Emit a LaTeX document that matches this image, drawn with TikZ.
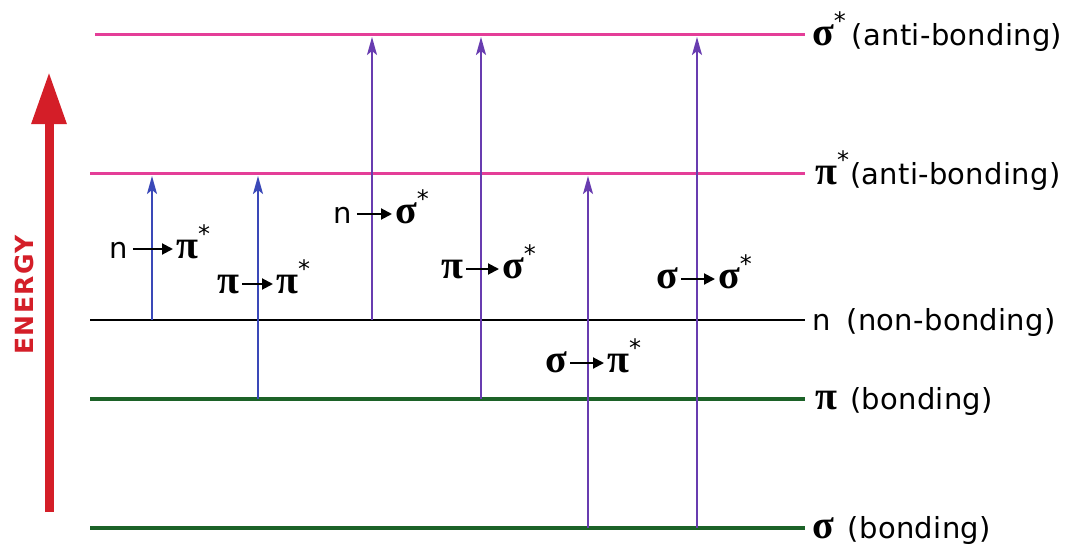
\documentclass[tikz,border=0pt]{standalone}
\usepackage{fontspec}
\setmainfont{DejaVu Sans}[LetterSpace=1]
\newfontfamily\gkfont{Liberation Serif}
\newfontfamily\enfont{DejaVu Sans}[LetterSpace=6]
\usetikzlibrary{arrows.meta}
\definecolor{pinkl}{RGB}{228,62,152}
\definecolor{greenl}{RGB}{28,98,40}
\definecolor{bluea}{RGB}{58,72,184}
\definecolor{purplea}{RGB}{104,60,176}
\definecolor{redE}{RGB}{212,30,40}
\newcommand{\gk}[1]{{\gkfont\bfseries\fontsize{40}{40}\selectfont #1}}
\newcommand{\st}{\raisebox{0.55em}{\fontsize{24}{24}\selectfont *}}
\tikzset{
  pinkline/.style={pinkl, line width=3pt},
  blackline/.style={black, line width=2pt},
  greenline/.style={greenl, line width=4pt},
  trans/.style={line width=2pt, -{Stealth[length=18pt,width=10pt,inset=4pt]}},
  lbl/.style={inner sep=0pt, font=\fontsize{29}{32}\selectfont, anchor=base west},
  tarr/.style={black, line width=2pt, -{Triangle[length=11pt,width=11pt]}},
}
\begin{document}
\begin{tikzpicture}[x=1pt,y=-1pt]
\fill[white] (0,0) rectangle (1074,547);
\useasboundingbox (0,0) rectangle (1074,547);
% energy levels
\draw[pinkline] (95,34) -- (805,34);
\draw[pinkline] (90,173) -- (805,173);
\draw[blackline] (90,320) -- (805,320);
\draw[greenline] (90,399) -- (805,399);
\draw[greenline] (90,528) -- (805,528);
% level labels
\node[lbl] (Lss) at (812,45) {\gk{σ}\st\hspace{6pt}(anti-bonding)};
\node[lbl] (Lps) at (815,184) {\gk{π}\st\hspace{1pt}(anti-bonding)};
\node[lbl] (Ln) at (812,330) {n\hspace{16pt}(non-bonding)};
\node[lbl] (Lp) at (815,409) {\gk{π}\hspace{13pt}(bonding)};
\node[lbl] (Ls) at (812,538) {\gk{σ}\hspace{14pt}(bonding)};
% energy axis
\coordinate (Ebot) at (49,512);
\coordinate (Etop) at (49,72);
\draw[redE, line width=9pt, -{Triangle[length=52pt,width=33pt]}] (Ebot) -- (Etop);
\node[rotate=90, text=redE, inner sep=0pt, font=\enfont\bfseries\fontsize{25}{25}\selectfont] (E) at (24,295) {ENERGY};
% transition endpoints
\coordinate (a1) at (152,320); \coordinate (b1) at (152,176);
\coordinate (a2) at (258,399); \coordinate (b2) at (258,176);
\coordinate (a3) at (372,320); \coordinate (b3) at (372,37);
\coordinate (a4) at (481,399); \coordinate (b4) at (481,37);
\coordinate (a5) at (588,528); \coordinate (b5) at (588,176);
\coordinate (a6) at (697,528); \coordinate (b6) at (697,37);
\draw[trans, bluea] (a1) -- (b1);
\draw[trans, bluea] (a2) -- (b2);
\draw[trans, purplea] (a3) -- (b3);
\draw[trans, purplea] (a4) -- (b4);
\draw[trans, purplea] (a5) -- (b5);
\draw[trans, purplea] (a6) -- (b6);
% transition labels
\node[lbl] (t1a) at (109,258) {n};
\node[lbl] (t1b) at (176,258) {\gk{π}\st};
\draw[tarr] ([xshift=5pt,yshift=9pt]t1a.base east) -- ([xshift=-3pt,yshift=9pt]t1b.base west);
\node[lbl] (t2a) at (217,293) {\gk{π}};
\node[lbl] (t2b) at (276,293) {\gk{π}\st};
\draw[tarr] ([xshift=3pt,yshift=9pt]t2a.base east) -- ([xshift=-3pt,yshift=9pt]t2b.base west);
\node[lbl] (t3a) at (333,223) {n};
\node[lbl] (t3b) at (395,223) {\gk{σ}\st};
\draw[tarr] ([xshift=5pt,yshift=9pt]t3a.base east) -- ([xshift=-3pt,yshift=9pt]t3b.base west);
\node[lbl] (t4a) at (441,278) {\gk{π}};
\node[lbl] (t4b) at (502,278) {\gk{σ}\st};
\draw[tarr] ([xshift=3pt,yshift=9pt]t4a.base east) -- ([xshift=-3pt,yshift=9pt]t4b.base west);
\node[lbl] (t5a) at (545,372) {\gk{σ}};
\node[lbl] (t5b) at (607,372) {\gk{π}\st};
\draw[tarr] ([xshift=3pt,yshift=9pt]t5a.base east) -- ([xshift=-3pt,yshift=9pt]t5b.base west);
\node[lbl] (t6a) at (656,288) {\gk{σ}};
\node[lbl] (t6b) at (718,288) {\gk{σ}\st};
\draw[tarr] ([xshift=3pt,yshift=9pt]t6a.base east) -- ([xshift=-3pt,yshift=9pt]t6b.base west);
\end{tikzpicture}
\end{document}
